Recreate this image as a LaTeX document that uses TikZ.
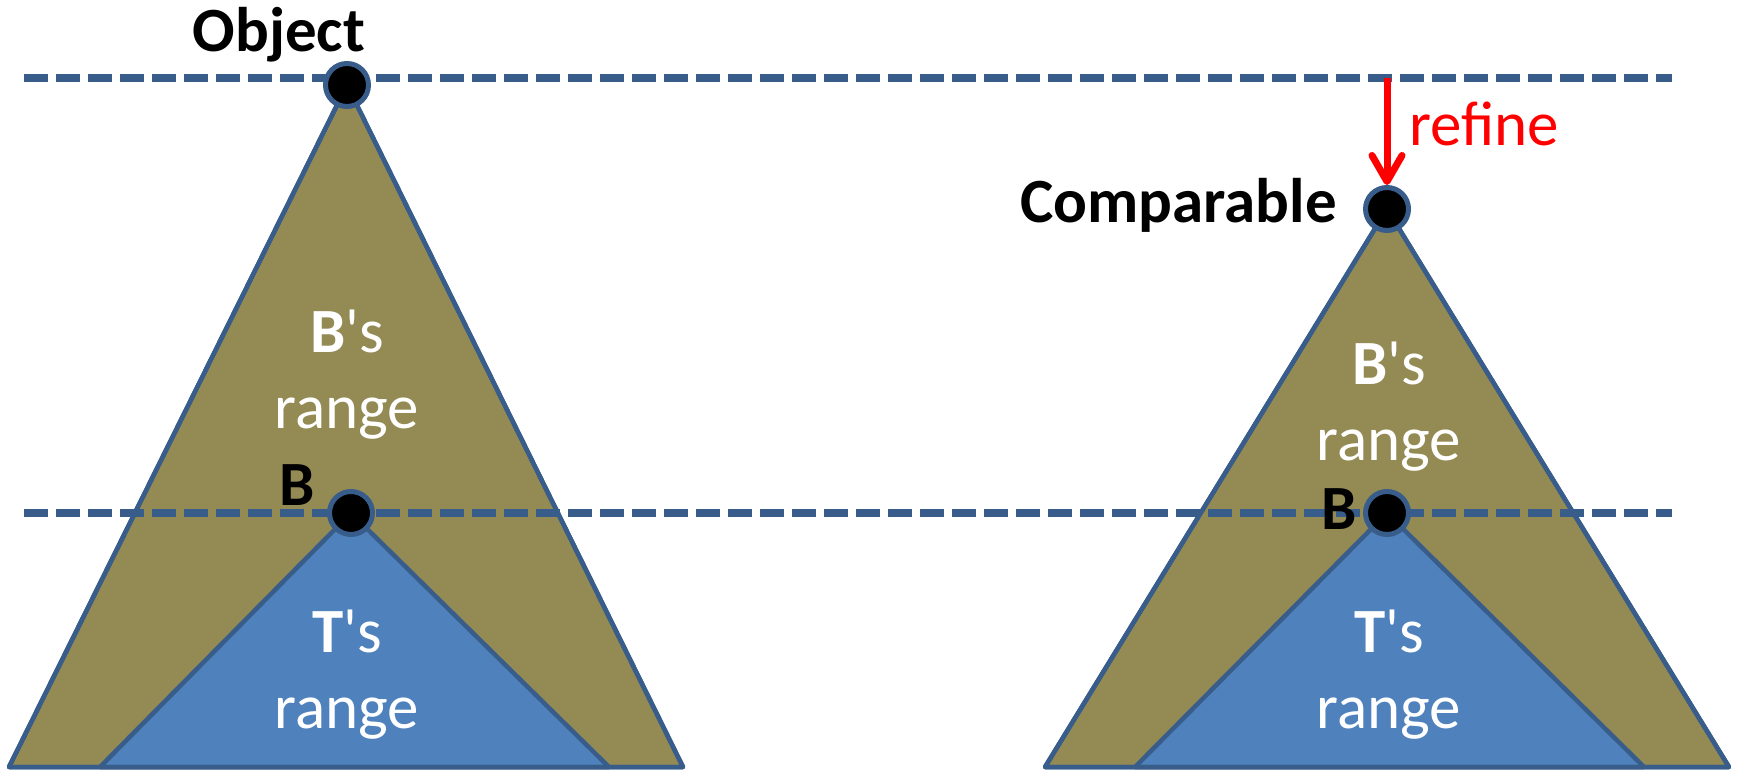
\documentclass[tikz,border=0pt]{standalone}
\usepackage{fontspec}
\setmainfont{Carlito}
\usetikzlibrary{arrows.meta,positioning}
\definecolor{olivefill}{RGB}{148,138,84}
\definecolor{bluefill}{RGB}{79,129,189}
\definecolor{edgeblue}{RGB}{56,93,138}
\newcommand{\bigfont}{\fontsize{63}{76}\selectfont}
\newcommand{\apos}{\textquotesingle}

\begin{document}
\begin{tikzpicture}[x=1pt, y=-1pt,
    outertri/.style={fill=olivefill, draw=edgeblue, line width=4.5pt, line join=round},
    innertri/.style={fill=bluefill, draw=edgeblue, line width=4.5pt, line join=round},
    level/.style={draw=edgeblue, line width=8pt, dash pattern=on 24pt off 8pt},
    dot/.style={circle, fill=black, draw=edgeblue, line width=5pt, minimum size=43pt, inner sep=0pt},
    lbl/.style={font=\bigfont\bfseries, inner sep=0pt},
    rangelbl/.style={font=\bigfont, text=white, align=center, inner sep=0pt}]
    \useasboundingbox (0,0) rectangle (1742,771);
    % left tree
    \coordinate (obj) at (347,85);
    \coordinate (lb) at (351,513);
    \fill[outertri] (obj) -- (9,767) -- (683,767) -- cycle;
    \fill[innertri] (lb) -- (100,767) -- (609,767) -- cycle;
    \draw[outertri, fill=none] (obj) -- (9,767) -- (683,767) -- cycle;
    % right tree
    \coordinate (cmp) at (1387,209);
    \coordinate (rb) at (1387,513);
    \fill[outertri] (cmp) -- (1045,767) -- (1729,767) -- cycle;
    \fill[innertri] (rb) -- (1135,767) -- (1644,767) -- cycle;
    \draw[outertri, fill=none] (cmp) -- (1045,767) -- (1729,767) -- cycle;
    % levels
    \coordinate (top west) at (24,78);
    \coordinate (top east) at (1672,78);
    \coordinate (mid west) at (24,513);
    \coordinate (mid east) at (1672,513);
    \draw[level] (top west) -- (top east);
    \draw[level] (mid west) -- (mid east);
    % dots
    \node[dot] (objdot) at (obj) {};
    \node[dot] (lbdot) at (lb) {};
    \node[dot] (cmpdot) at (cmp) {};
    \node[dot] (rbdot) at (rb) {};
    % labels
    \node[lbl, anchor=base] (objlbl) at (279,51) {Object};
    \node[lbl, anchor=base east] (cmplbl) at (1337,222) {Comparable};
    \node[lbl, anchor=base] (lblbl) at (297,505) {B};
    \node[lbl, anchor=base] (rblbl) at (1339,529) {B};
    \node[rangelbl] (lbrange) at (347,375) {\textbf{B}\apos s\\range};
    \node[rangelbl] (rbrange) at (1389,407) {\textbf{B}\apos s\\range};
    \node[rangelbl] (ltrange) at (347,675) {\textbf{T}\apos s\\range};
    \node[rangelbl] (rtrange) at (1389,675) {\textbf{T}\apos s\\range};
    % refine arrow
    \coordinate (refstart) at (1387,78);
    \draw[red, line width=7pt, -{Straight Barb[round, length=26pt, width=30pt]}]
        (refstart) -- (cmpdot.north);
    \node[font=\bigfont, text=red, inner sep=0pt, anchor=base west] (reflbl) at (1409,145) {refine};
\end{tikzpicture}
\end{document}
